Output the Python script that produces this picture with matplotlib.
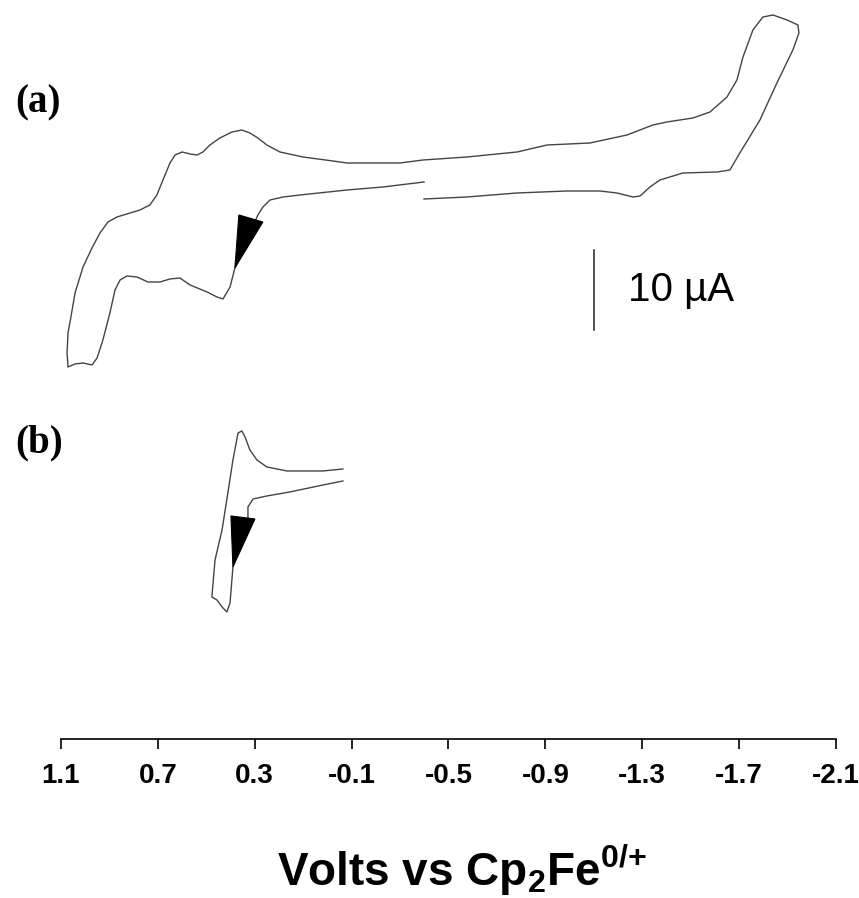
import numpy as np
from matplotlib import pyplot as plt
from matplotlib.patches import Polygon
from matplotlib import transforms
from matplotlib import font_manager

# cyclic voltammograms, potential in V vs Cp2Fe(0/+), current in uA
volts_a = [-0.399, -0.229, -0.081, 0.113, 0.183, 0.237, 0.266, 0.287, 0.382,
           0.402, 0.431, 0.456, 0.497, 0.567, 0.609, 0.650, 0.691, 0.741,
           0.786, 0.828, 0.856, 0.877, 0.898, 0.927, 0.951, 0.972, 1.009,
           1.042, 1.071, 1.075, 1.071, 1.059, 1.042, 1.009, 0.972, 0.939,
           0.906, 0.869, 0.815, 0.774, 0.733, 0.704, 0.679, 0.650, 0.629,
           0.600, 0.567, 0.538, 0.514, 0.485, 0.444, 0.394, 0.353, 0.320,
           0.287, 0.250, 0.196, 0.101, -0.023, -0.081, -0.300, -0.395,
           -0.576, -0.783, -0.907, -1.084, -1.237, -1.344, -1.402, -1.509,
           -1.580, -1.650, -1.691, -1.716, -1.757, -1.798, -1.840, -1.898,
           -1.943, -1.947, -1.922, -1.856, -1.786, -1.703, -1.662, -1.609,
           -1.468, -1.373, -1.332, -1.291, -1.262, -1.196, -1.125, -0.989,
           -0.783, -0.576, -0.399]
curr_a = [0.375, -0.25, -0.625, -1.25, -1.5, -1.875, -2.75, -3.75, -10.375,
          -12.75, -14.25, -14.0, -13.375, -12.5, -11.625, -11.75, -12.125,
          -12.125, -11.5, -11.375, -11.875, -13.125, -16.0, -19.375, -21.625,
          -22.5, -22.25, -22.375, -22.75, -21.0, -18.5, -16.5, -13.5, -10.25,
          -7.875, -6.0, -4.625, -4.0, -3.5, -3.125, -2.5, -1.25, 0.625, 2.75,
          3.75, 4.125, 3.875, 3.75, 4.125, 5.0, 5.875, 6.625, 6.875, 6.5,
          5.875, 5.0, 4.125, 3.5, 3.0, 2.75, 2.75, 3.125, 3.5, 4.125, 5.0,
          5.25, 6.25, 7.5, 7.875, 8.375, 9.125, 11.0, 13.125, 16.0, 19.375,
          21.0, 21.25, 20.625, 20.0, 19.0, 16.875, 12.75, 8.125, 4.0, 1.875,
          1.625, 1.5, 0.625, -0.25, -1.375, -1.5, -1.0, -0.75, -0.75, -1.0,
          -1.5, -1.75]

volts_b = [-0.064, 0.018, 0.155, 0.250, 0.307, 0.328, 0.328, 0.390, 0.402,
           0.415, 0.435, 0.456, 0.477, 0.464, 0.435, 0.411, 0.390, 0.369,
           0.353, 0.340, 0.320, 0.291, 0.250, 0.167, 0.018, -0.064]
curr_b = [-1.375, -1.875, -2.75, -3.25, -3.625, -4.625, -6.0, -12.125,
          -16.625, -17.75, -17.125, -16.25, -15.875, -11.25, -7.5, -2.875,
          1.25, 4.625, 4.875, 4.125, 2.5, 1.25, 0.375, -0.125, -0.125, 0.125]

offset_a = -23.125
offset_b = -58.75
arrow_idx_a = 8
arrow_idx_b = 7

xticks = [1.1, 0.7, 0.3, -0.1, -0.5, -0.9, -1.3, -1.7, -2.1]
scale_uA = 10
scale_at = (-1.101, -41.25)

names = [f.name for f in font_manager.fontManager.ttflist]
tick_font = 'Liberation Sans Narrow' if 'Liberation Sans Narrow' in names else 'Liberation Sans'

plt.rcParams['mathtext.fontset'] = 'custom'
plt.rcParams['mathtext.rm'] = 'Liberation Sans:bold'
plt.rcParams['mathtext.bf'] = 'Liberation Sans:bold'

fig = plt.figure(figsize=(8.59, 8.98), dpi=100)
ax = fig.add_axes([0.0710, 0.1771, 0.9022, 0.8229])

line_col = '#444444'
ax.plot(volts_a, np.array(curr_a) + offset_a, color=line_col, lw=1.0)
ax.plot(volts_b, np.array(curr_b) + offset_b, color=line_col, lw=1.0)

# scan direction wedges, tip sits on the trace
wedge_a = [(0, 0), (0.04, 0.53), (0.28, 0.46)]
wedge_b = [(0, 0), (-0.02, 0.51), (0.22, 0.48)]
for vv, cc, off, idx, wedge in [(volts_a, curr_a, offset_a, arrow_idx_a, wedge_a),
                                (volts_b, curr_b, offset_b, arrow_idx_b, wedge_b)]:
    tr = fig.dpi_scale_trans + transforms.ScaledTranslation(vv[idx], cc[idx] + off, ax.transData)
    ax.add_patch(Polygon(wedge, closed=True, facecolor='black', edgecolor='black',
                         lw=0.8, transform=tr, zorder=3))

# 10 uA scale bar
ax.plot([scale_at[0], scale_at[0]], [scale_at[1], scale_at[1] + scale_uA], color='#222222', lw=1.1)
ax.text(scale_at[0] - 0.14, scale_at[1] + scale_uA / 2, '10 \u00b5A', fontsize=29,
        family='Liberation Sans', ha='left', va='center')

ax.set_xlim(1.1, -2.1)
ax.set_ylim(-92.375, 0)
for s in ['top', 'right', 'left']:
    ax.spines[s].set_visible(False)
ax.spines['bottom'].set_linewidth(1.2)
ax.set_yticks([])
ax.set_xticks(xticks)
ax.set_xticklabels(['%.1f' % t for t in xticks], family=tick_font, fontweight='bold', fontsize=20)
ax.tick_params(axis='x', length=7, width=1.2, pad=10)

fig.text(0.538, 0.0135, r'Volts vs Cp$_2$Fe$^{0/{+}}$', fontsize=33, fontweight='bold',
         family='Liberation Sans', ha='center', va='baseline')
fig.text(0.044, 0.885, '(a)', fontsize=28, fontweight='bold', family='Liberation Serif',
         ha='center', va='center')
fig.text(0.045, 0.507, '(b)', fontsize=28, fontweight='bold', family='Liberation Serif',
         ha='center', va='center')

fig.savefig('out.png', dpi=100)
